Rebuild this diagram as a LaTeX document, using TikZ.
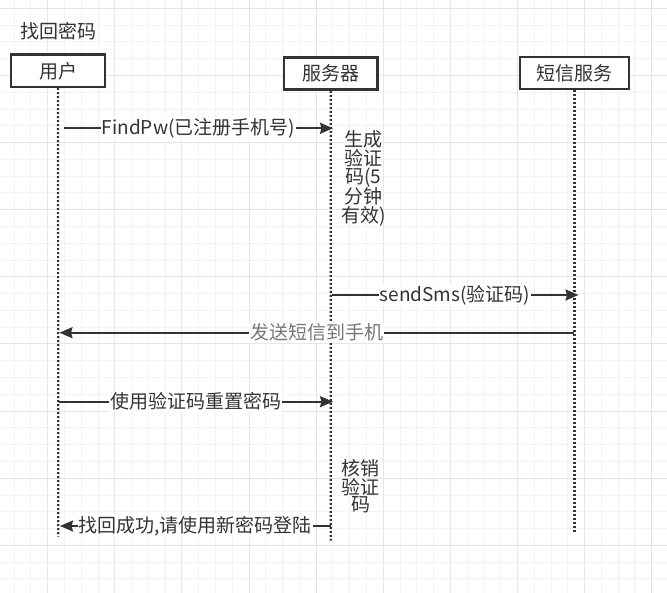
\documentclass[tikz,border=0pt]{standalone}
\usepackage{fontspec}
\setmainfont{Noto Sans CJK SC}
\usetikzlibrary{arrows.meta}
\definecolor{ink}{HTML}{333333}
\definecolor{lightink}{HTML}{777777}
\definecolor{gridminor}{HTML}{F3F3F3}
\definecolor{gridmajor}{HTML}{E6E6E6}
\tikzset{
  actorbox/.style={draw=ink, line width=2.4pt, fill=white, text=ink, minimum height=32.5pt, inner sep=0pt, font=\fontsize{19}{20}\selectfont},
  lifeline/.style={draw=ink, line width=2.2pt, dash pattern=on 2pt off 2pt},
  msg/.style={draw=ink, line width=2pt, -{Stealth[length=13pt,width=11pt,inset=1.5pt]}},
  lbl/.style={fill=white, inner sep=1pt, text=ink, font=\fontsize{19}{20}\selectfont},
  note/.style={text=ink, align=center, inner sep=0pt, font=\fontsize{19}{17.4}\selectfont},
}
\begin{document}
\begin{tikzpicture}[x=1pt,y=-1pt]
\useasboundingbox (0,0) rectangle (667,593);
\fill[white] (0,0) rectangle (667,593);
% grid
\foreach \i in {0,...,39} {
  \pgfmathsetmacro\xx{14.1+16.78*\i}
  \draw[gridminor, line width=1pt] (\xx,0) -- (\xx,593);
}
\foreach \i in {0,...,35} {
  \pgfmathsetmacro\yy{8.4+16.78*\i}
  \draw[gridminor, line width=1pt] (0,\yy) -- (667,\yy);
}
\foreach \i in {0,...,9} {
  \pgfmathsetmacro\xx{47.66+67.12*\i}
  \draw[gridmajor, line width=1pt] (\xx,0) -- (\xx,593);
}
\foreach \i in {0,...,8} {
  \pgfmathsetmacro\yy{8.4+67.12*\i}
  \draw[gridmajor, line width=1pt] (0,\yy) -- (667,\yy);
}

% title
\node[text=ink, font=\fontsize{19}{20}\selectfont] (title) at (58,31.5) {找回密码};

% actors
\node[actorbox, minimum width=93.5pt] (user) at (58,70.8) {用户};
\node[actorbox, minimum width=93.5pt, minimum height=32pt] (server) at (330.7,73.7) {服务器};
\node[actorbox, minimum width=109pt, minimum height=32pt] (sms) at (574.4,73) {短信服务};

% lifeline ends
\coordinate (userEnd) at (58.3,536.7);
\coordinate (serverEnd) at (330.8,540.7);
\coordinate (smsEnd) at (574.4,533.3);

\draw[lifeline] (user.south) -- (userEnd);
\draw[lifeline] (server.south) -- (serverEnd);
\draw[lifeline] (sms.south) -- (smsEnd);

% message end points
\coordinate (m1s) at (64,128.3);
\coordinate (m1e) at (333,128.3);
\coordinate (m2s) at (331.5,295);
\coordinate (m2e) at (578.5,295);
\coordinate (m3s) at (574.4,332.7);
\coordinate (m3e) at (59.5,332.7);
\coordinate (m4s) at (58.5,401.7);
\coordinate (m4e) at (333,401.7);
\coordinate (m5s) at (330.5,526);
\coordinate (m5e) at (60,526);

\draw[msg] (m1s) -- node[lbl] (l1) {FindPw(已注册手机号)} (m1e);
\draw[msg] (m2s) -- node[lbl] (l2) {sendSms(验证码)} (m2e);
\draw[msg] (m3s) -- node[lbl, text=lightink] (l3) {发送短信到手机} (m3e);
\draw[msg] (m4s) -- node[lbl] (l4) {使用验证码重置密码} (m4e);
\draw[msg] (m5s) -- node[lbl] (l5) {找回成功,请使用新密码登陆} (m5e);

% notes
\node[note] (n1) at (363.3,178.5) {生成\\验证\\码(5\\分钟\\有效)};
\node[note] (n2) at (360.7,486.5) {核销\\验证\\码};
\end{tikzpicture}
\end{document}
